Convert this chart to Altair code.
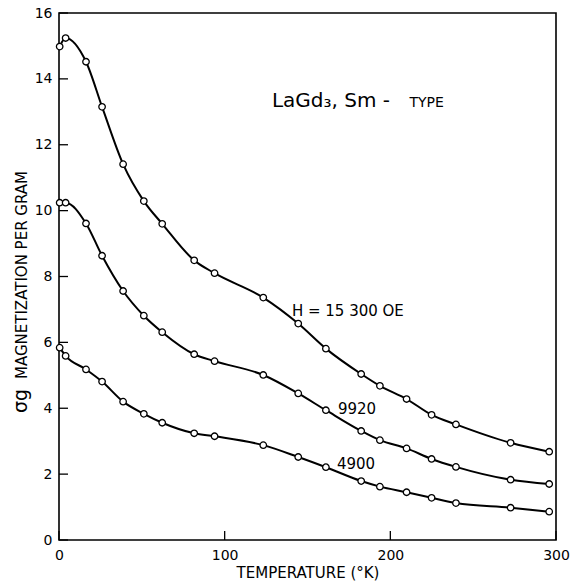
import altair as alt
import pandas as pd

# ---- data ----
temps = [0.4, 4.0, 16.3, 26.0, 38.7, 51.2, 62.3, 81.6, 93.9, 123.3, 144.4,
         161.1, 182.4, 193.7, 209.8, 224.9, 239.6, 272.6, 295.9]
sigma_15300 = [14.98, 15.24, 14.52, 13.15, 11.41, 10.29, 9.60, 8.49, 8.10, 7.36,
               6.57, 5.81, 5.04, 4.68, 4.28, 3.80, 3.51, 2.95, 2.68]
sigma_9920 = [10.24, 10.24, 9.61, 8.63, 7.56, 6.81, 6.31, 5.64, 5.43, 5.01,
              4.45, 3.94, 3.31, 3.03, 2.78, 2.46, 2.22, 1.83, 1.70]
sigma_4900 = [5.84, 5.59, 5.18, 4.81, 4.20, 3.83, 3.56, 3.24, 3.15, 2.88,
              2.52, 2.21, 1.79, 1.62, 1.45, 1.28, 1.12, 0.98, 0.86]
field_names = ["15300", "9920", "4900"]
x_ticks = [0, 100, 200, 300]
y_ticks = [0, 2, 4, 6, 8, 10, 12, 14, 16]

rows = []
for name, vals in zip(field_names, [sigma_15300, sigma_9920, sigma_4900]):
    for t, s in zip(temps, vals):
        rows.append({"T": t, "sigma": s, "field": name})
df = pd.DataFrame(rows)

W, H = 497, 527
FONT = "DejaVu Sans"

xs = alt.Scale(domain=[0, 300], nice=False, zero=False)
ys = alt.Scale(domain=[0, 16], nice=False)

x_axis = alt.Axis(
    values=x_ticks, ticks=False, domain=False, grid=False, labelFlush=False,
    labelFontSize=14, labelPadding=8, labelColor="black", labelFont=FONT,
    title="TEMPERATURE (°K)", titleFontSize=15, titleFontWeight="normal",
    titleFont=FONT, titleColor="black", titlePadding=3)
y_axis = alt.Axis(
    values=y_ticks, ticks=False, domain=False, grid=False, labelFlush=False,
    labelFontSize=14, labelPadding=7, labelColor="black", labelFont=FONT,
    title="")


def X():
    return alt.X("T:Q", scale=xs, axis=x_axis, title="TEMPERATURE (°K)")


def Y():
    return alt.Y("sigma:Q", scale=ys, axis=y_axis, title="")


base = alt.Chart(df)
lines = base.mark_line(color="black", strokeWidth=2, interpolate="monotone").encode(
    x=X(), y=Y(), detail="field:N")
points = base.mark_point(shape="circle", filled=True, fill="white", stroke="black",
                         strokeWidth=1.3, size=42, opacity=1).encode(
    x=X(), y=Y(), detail="field:N")

ytick_df = pd.DataFrame({"sigma": y_ticks})
xtick_df = pd.DataFrame({"T": x_ticks})
yticks = alt.Chart(ytick_df).mark_rule(color="black", strokeWidth=1.3).encode(
    y=Y(), x=alt.value(0), x2=alt.value(9))
xticks = alt.Chart(xtick_df).mark_rule(color="black", strokeWidth=1.3).encode(
    x=X(), y=alt.value(H), y2=alt.value(H - 9))


# annotations
def label(text, x, y, size, align="left", baseline="middle"):
    d = pd.DataFrame({"t": [text], "T": [x], "sigma": [y]})
    return alt.Chart(d).mark_text(align=align, baseline=baseline, fontSize=size,
                                  font=FONT, color="black").encode(
        x=X(), y=Y(), text="t:N")


ann1 = label("LaGd₃, Sm -", 128.5, 13.15, 20, baseline="alphabetic")
ann2 = label("TYPE", 211.5, 13.15, 14, baseline="alphabetic")
ann3 = label("H = 15 300 OE", 140.6, 6.95, 15)
ann4 = label("9920", 168.4, 3.98, 15)
ann5 = label("4900", 167.8, 2.32, 15)


def ytitle(text, xpix, ypix, size):
    d = pd.DataFrame({"t": [text]})
    return alt.Chart(d).mark_text(angle=270, align="center", baseline="middle",
                                  fontSize=size, font=FONT, color="black").encode(
        x=alt.value(xpix), y=alt.value(ypix), text="t:N")


yt1 = ytitle("MAGNETIZATION PER GRAM", -37, 262, 15)
yt2 = ytitle("σg", -38, 388, 19)

chart = alt.layer(lines, points, yticks, xticks, ann1, ann2, ann3, ann4, ann5, yt1, yt2).properties(
    width=W, height=H,
    autosize=alt.AutoSizeParams(type="none"),
    padding={"left": 59, "top": 13, "right": 19, "bottom": 41},
    background="white",
).configure_view(stroke="black", strokeWidth=1.6)

chart.save("out.html", embed_options={"renderer": "svg", "actions": False})
